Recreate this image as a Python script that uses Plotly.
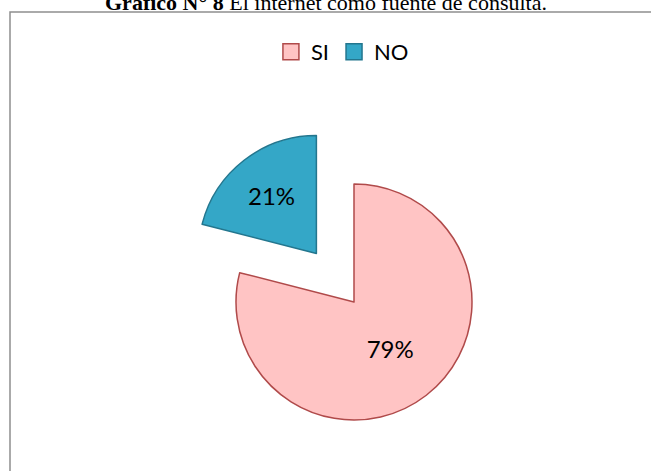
import math
import plotly.graph_objects as go

# ---- data ----
categories = ["SI", "NO"]
values = [79, 21]
fill_colors = ["#ffc4c4", "#34a7c7"]
edge_colors = ["#b04a4a", "#23768e"]
exploded = ["NO"]
title_bold = "Gráfico N° 8"
title_rest = "El internet como fuente de consulta."

# ---- layout constants ----
W, H = 651, 471
cx, cy, r = 354, 302, 118   # pie centre / radius in px
pull = 0.52                  # explosion distance as fraction of radius
font_main = "Lato"

fig = go.Figure()
total = sum(values)
cum = 0.0
for i, cat in enumerate(categories):
    frac = values[i] / total
    mid = (cum + frac / 2) * 2 * math.pi
    cum += frac
    off = pull * r if cat in exploded else 0.0
    px = cx + off * math.sin(mid)
    py = cy - off * math.cos(mid)
    colors = [fill_colors[j] if j == i else "rgba(0,0,0,0)" for j in range(len(categories))]
    lines = [edge_colors[j] if j == i else "rgba(0,0,0,0)" for j in range(len(categories))]
    texts = ["%{percent:.0%}" if j == i else "" for j in range(len(categories))]
    fig.add_trace(go.Pie(
        labels=categories, values=values, sort=False, direction="clockwise", rotation=0,
        marker=dict(colors=colors, line=dict(color=lines, width=1.5)),
        texttemplate=texts, textposition="inside", insidetextorientation="horizontal",
        textfont=dict(family=font_main, size=24, color="black"),
        domain=dict(x=[(px - r) / W, (px + r) / W], y=[(H - (py + r)) / H, (H - (py - r)) / H]),
        showlegend=False, hoverinfo="skip",
    ))

# legend entries
for i, cat in enumerate(categories):
    fig.add_trace(go.Scatter(
        x=[None], y=[None], mode="markers", name=cat,
        marker=dict(symbol="square", size=16, color=fill_colors[i],
                    line=dict(color=edge_colors[i], width=1.5)),
    ))

fig.update_layout(
    width=W, height=H,
    margin=dict(l=0, r=0, t=0, b=0),
    paper_bgcolor="white", plot_bgcolor="white",
    xaxis=dict(visible=False), yaxis=dict(visible=False),
    legend=dict(orientation="h", x=0.526, xanchor="center", y=1 - 52 / H, yanchor="middle",
                font=dict(family=font_main, size=22, color="black"),
                bgcolor="rgba(0,0,0,0)", itemwidth=30),
    shapes=[dict(type="rect", xref="paper", yref="paper",
                 x0=10 / W, x1=1.02, y0=-0.02, y1=1 - 12 / H,
                 line=dict(color="#8e8e8e", width=1.5), fillcolor="rgba(0,0,0,0)")],
    annotations=[dict(text=f"<b>{title_bold}</b> {title_rest}", xref="paper", yref="paper",
                      x=0.5, y=1, xanchor="center", yanchor="bottom", yshift=-17, showarrow=False,
                      font=dict(family="Liberation Serif", size=22, color="black"))],
)

fig.write_html("out.html", config={"displayModeBar": False},
               post_script="document.body.style.margin='0px';document.body.style.overflow='hidden';")
